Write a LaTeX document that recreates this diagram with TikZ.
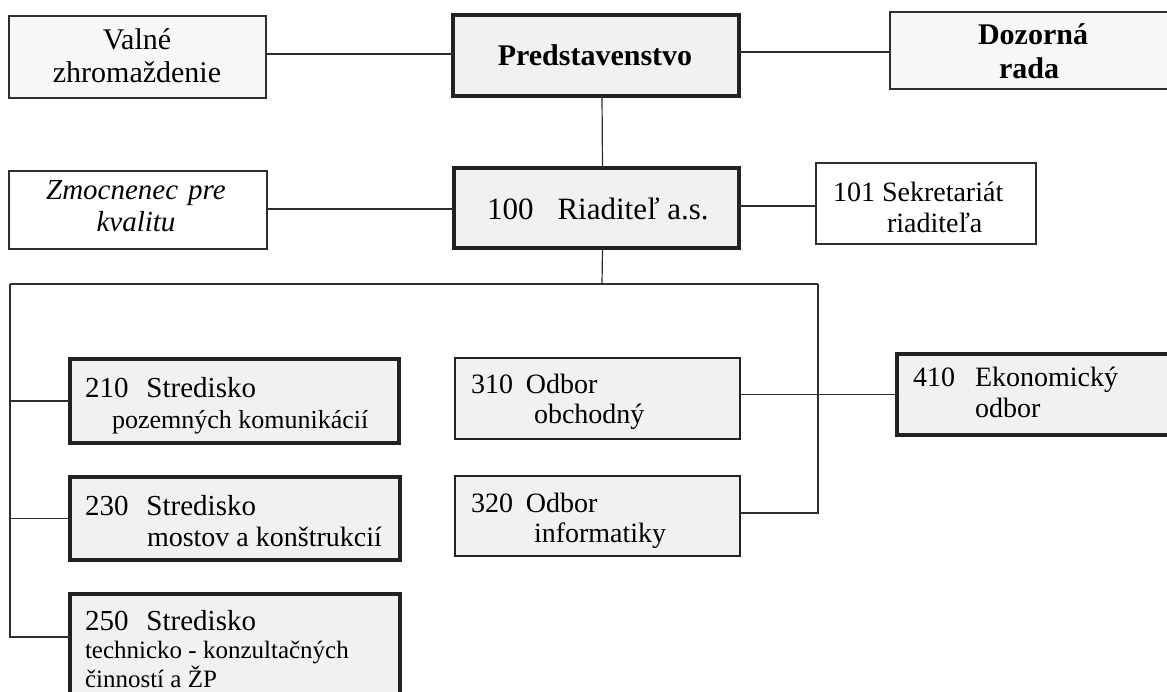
\documentclass[tikz,border=0pt]{standalone}
\usepackage{fontspec}
\setmainfont{Liberation Serif}
\newcommand{\fsz}[1]{\fontsize{#1}{#1}\selectfont}
\definecolor{lineclr}{HTML}{2E2E2E}
\definecolor{thickclr}{HTML}{222222}
\definecolor{graybg}{HTML}{F1F1F1}
\definecolor{lightbg}{HTML}{F7F7F7}
\begin{document}
\begin{tikzpicture}[x=1pt,y=-1pt,
  box/.style={rectangle, inner sep=0pt, outer sep=0pt},
  thinbox/.style={box, draw=lineclr, line width=1.3pt, fill=white},
  thinshade/.style={thinbox, fill=lightbg},
  thickbox/.style={box, draw=thickclr, line width=3.2pt, fill=graybg},
  conn/.style={draw=lineclr, line width=1.2pt},
  lbl/.style={inner sep=0pt, outer sep=0pt, anchor=base west, font=\fsz{28}},
  clbl/.style={lbl, anchor=base}]
\useasboundingbox (0,0) rectangle (1167,691);
\clip (0,0) rectangle (1167,691);

% boxes
\node[thinshade, minimum width=257pt, minimum height=82pt] (valne) at (137.5,57) {};
\node[thickbox, minimum width=286pt, minimum height=81pt] (pred) at (596,55.5) {};
\node[thinshade, minimum width=285pt, minimum height=77pt] (dozor) at (1032.5,50.5) {};
\node[thinbox, minimum width=258pt, minimum height=78pt] (zmoc) at (138,210) {};
\node[thickbox, minimum width=285pt, minimum height=80pt] (riad) at (596.5,208) {};
\node[thinbox, minimum width=220pt, minimum height=81pt] (sekr) at (926,203.5) {};
\node[thickbox, minimum width=329pt, minimum height=84pt] (s210) at (234.5,401) {};
\node[thickbox, minimum width=330pt, minimum height=83pt] (s230) at (235,518.5) {};
\node[thickbox, minimum width=330pt, minimum height=126pt] (s250) at (235,657) {};
\node[thickbox, line width=2.8pt, minimum width=285pt, minimum height=81pt] (o310) at (597.5,398.5) {};
\node[thickbox, line width=2.8pt, minimum width=285pt, minimum height=80pt] (o320) at (597.5,516) {};
\node[thickbox, minimum width=283pt, minimum height=81pt] (e410) at (1038.5,394.5) {};

% texts
\node[clbl, font=\fsz{30}] (valne1) at (137,49) {Valné};
\node[clbl, font=\fsz{30}] (valne2) at (137,82) {zhromaždenie};
\node[clbl, font=\fsz{30}\bfseries] (pred1) at (595,65) {Predstavenstvo};
\node[clbl, font=\fsz{30}\bfseries] (dozor1) at (1033,44) {Dozorná};
\node[clbl, font=\fsz{30}\bfseries] (dozor2) at (1029,78) {rada};
\node[clbl, font=\fsz{29}\itshape] (zmoc1) at (136,199) {Zmocnenec\hspace{10pt}pre};
\node[clbl, font=\fsz{29}\itshape] (zmoc2) at (136,231) {kvalitu};
\node[lbl, font=\fsz{31}] (riad1) at (487,219) {100\hspace{24pt}Riaditeľ a.s.};
\node[lbl] (sekr1) at (833,201) {101 Sekretariát};
\node[lbl] (sekr2) at (887,232) {riaditeľa};
\node[lbl, font=\fsz{29}] (s2101) at (85,397) {210\hspace{18pt}Stredisko};
\node[lbl, font=\fsz{26}] (s2102) at (112,428) {pozemných komunikácií};
\node[lbl, font=\fsz{29}] (s2301) at (85,515) {230\hspace{18pt}Stredisko};
\node[lbl] (s2302) at (147,546) {mostov a konštrukcií};
\node[lbl, font=\fsz{29}] (s2501) at (85,630) {250\hspace{18pt}Stredisko};
\node[lbl, font=\fsz{25}] (s2502) at (85,658) {technicko - konzultačných};
\node[lbl, font=\fsz{25}] (s2503) at (85,687) {činností a ŽP};
\node[lbl] (o3101) at (471,393) {310\hspace{13pt}Odbor};
\node[lbl] (o3102) at (534,423) {obchodný};
\node[lbl] (o3201) at (471,512) {320\hspace{13pt}Odbor};
\node[lbl] (o3202) at (534,542) {informatiky};
\node[lbl] (e4101) at (913,386) {410\hspace{20pt}Ekonomický};
\node[lbl] (e4102) at (975,417) {odbor};

% bus coordinates
\coordinate (bus) at (602,284);
\coordinate (busL) at (10,284);
\coordinate (busR) at (818,284);

% connectors
\draw[conn] (valne.east |- 0,54) -- (pred.west |- 0,54);
\draw[conn] (pred.east |- 0,52) -- (dozor.west |- 0,52);
\draw[conn] ([xshift=6pt]pred.south) -- ([xshift=6pt]riad.north);
\draw[conn] (zmoc.east |- 0,209) -- (riad.west |- 0,209);
\draw[conn] (riad.east |- 0,206) -- (sekr.west |- 0,206);
\draw[conn] ([xshift=6pt]riad.south) -- (bus);
\draw[conn] (busL) -- (busR);
\draw[conn] (busL) |- ([yshift=20pt]s250.west);
\draw[conn] (busL |- s210.west) -- (s210.west);
\draw[conn] (busL |- s230.west) -- (s230.west);
\draw[conn] (busR) |- ([yshift=3pt]o320.east);
\draw[conn] (o310.east |- e410.west) -- (e410.west);
\end{tikzpicture}
\end{document}
